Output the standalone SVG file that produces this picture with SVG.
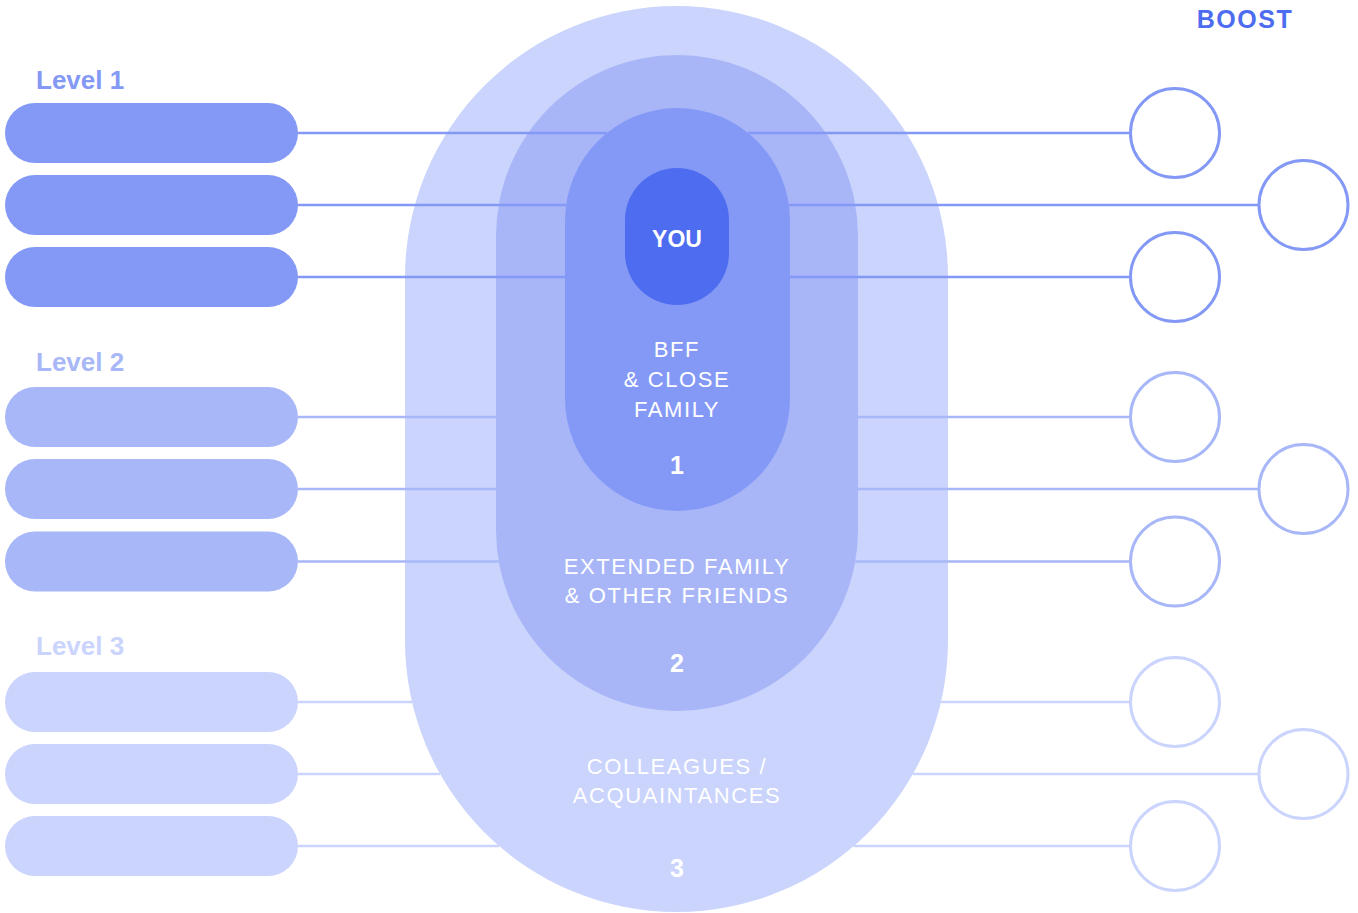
<svg xmlns="http://www.w3.org/2000/svg" width="1358" height="913" viewBox="0 0 1358 913">
  <style>
    .lvl { font-family: "Liberation Sans", Arial, sans-serif; font-weight: bold; font-size: 26px; }
    .zone { font-family: "Liberation Sans", Arial, sans-serif; font-size: 22px; fill: #ffffff; text-anchor: middle; letter-spacing: 1.6px; }
    .num { font-family: "Liberation Sans", Arial, sans-serif; font-weight: bold; font-size: 25px; fill: #ffffff; text-anchor: middle; }
    .c1 { fill: #8499F5; } .c2 { fill: #A8B7F8; } .c3 { fill: #CAD4FC; }
    .l1 { stroke: #8499F5; } .l2 { stroke: #A8B7F8; } .l3 { stroke: #CAD4FC; }
    .conn path { fill: none; stroke-width: 2.5; }
    .ring { fill: #ffffff; stroke-width: 3; }
  </style>

  <!-- level labels -->
  <text class="lvl c1" x="36" y="89">Level 1</text>
  <text class="lvl c2" x="36" y="371">Level 2</text>
  <text class="lvl c3" x="36" y="655">Level 3</text>
  <text x="1245" y="28" text-anchor="middle" style="font-family:'Liberation Sans',Arial,sans-serif;font-weight:bold;font-size:25px;letter-spacing:1.5px" fill="#4D6CF0">BOOST</text>

  <!-- concentric zones -->
  <g id="zone3">
    <rect x="405" y="6" width="543" height="906" rx="271.5" ry="271.5" fill="#CAD4FC"/>
    <text class="zone" x="677" y="774">COLLEAGUES /</text>
    <text class="zone" x="677" y="803">ACQUAINTANCES</text>
    <text class="num" x="677" y="877">3</text>
  </g>
  <g id="zone2">
    <rect x="496" y="55" width="362" height="656" rx="181" ry="181" fill="#A8B6F8"/>
    <text class="zone" x="677" y="574">EXTENDED FAMILY</text>
    <text class="zone" x="677" y="603">&amp; OTHER FRIENDS</text>
    <text class="num" x="677" y="672">2</text>
  </g>
  <g id="zone1">
    <rect x="565" y="108" width="225" height="403" rx="112.5" ry="112.5" fill="#8499F5"/>
    <text class="zone" x="677" y="357">BFF</text>
    <text class="zone" x="677" y="387">&amp; CLOSE</text>
    <text class="zone" x="677" y="417">FAMILY</text>
    <text class="num" x="677" y="474">1</text>
  </g>
  <g id="you">
    <rect x="625" y="168" width="104" height="137" rx="52" ry="52" fill="#4D6CF0"/>
    <text x="677" y="247" text-anchor="middle" style="font-family:'Liberation Sans',Arial,sans-serif;font-weight:bold;font-size:23px" fill="#ffffff">YOU</text>
  </g>

  <!-- connectors -->
  <g id="connectors" class="conn">
    <path class="l1" d="M298 133 H606.8 M748.2 133 H1130.5"/>
    <path class="l1" d="M298 205 H566.1 M788.9 205 H1259"/>
    <path class="l1" d="M298 277 H565 M790 277 H1130.5"/>
    <path class="l2" d="M298 417 H496 M858 417 H1130.5"/>
    <path class="l2" d="M298 489 H496 M858 489 H1259"/>
    <path class="l2" d="M298 561.5 H498.8 M855.2 561.5 H1130.5"/>
    <path class="l3" d="M298 702 H412.1 M940.9 702 H1130.5"/>
    <path class="l3" d="M298 774 H440.1 M912.9 774 H1259"/>
    <path class="l3" d="M298 846 H499.1 M853.9 846 H1130.5"/>
  </g>

  <!-- left pills -->
  <g id="pill-1a"><rect class="c1" x="5" y="103" width="293" height="60" rx="30"/></g>
  <g id="pill-1b"><rect class="c1" x="5" y="175" width="293" height="60" rx="30"/></g>
  <g id="pill-1c"><rect class="c1" x="5" y="247" width="293" height="60" rx="30"/></g>
  <g id="pill-2a"><rect class="c2" x="5" y="387" width="293" height="60" rx="30"/></g>
  <g id="pill-2b"><rect class="c2" x="5" y="459" width="293" height="60" rx="30"/></g>
  <g id="pill-2c"><rect class="c2" x="5" y="531.5" width="293" height="60" rx="30"/></g>
  <g id="pill-3a"><rect class="c3" x="5" y="672" width="293" height="60" rx="30"/></g>
  <g id="pill-3b"><rect class="c3" x="5" y="744" width="293" height="60" rx="30"/></g>
  <g id="pill-3c"><rect class="c3" x="5" y="816" width="293" height="60" rx="30"/></g>

  <!-- boost circles -->
  <g id="boost-1a"><circle class="ring l1" cx="1175" cy="133" r="44.5"/></g>
  <g id="boost-1b"><circle class="ring l1" cx="1303.5" cy="205" r="44.5"/></g>
  <g id="boost-1c"><circle class="ring l1" cx="1175" cy="277" r="44.5"/></g>
  <g id="boost-2a"><circle class="ring l2" cx="1175" cy="417" r="44.5"/></g>
  <g id="boost-2b"><circle class="ring l2" cx="1303.5" cy="489" r="44.5"/></g>
  <g id="boost-2c"><circle class="ring l2" cx="1175" cy="561.5" r="44.5"/></g>
  <g id="boost-3a"><circle class="ring l3" cx="1175" cy="702" r="44.5"/></g>
  <g id="boost-3b"><circle class="ring l3" cx="1303.5" cy="774" r="44.5"/></g>
  <g id="boost-3c"><circle class="ring l3" cx="1175" cy="846" r="44.5"/></g>
</svg>
